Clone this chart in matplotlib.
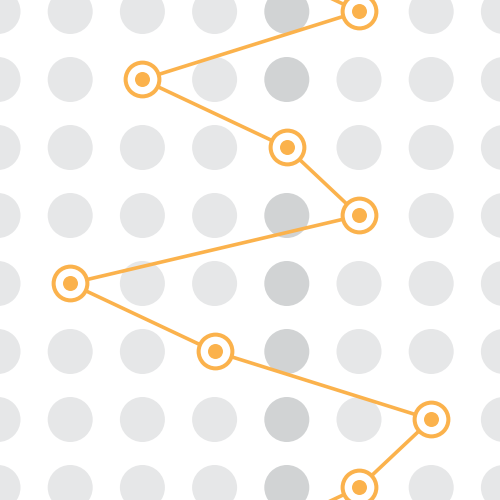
import numpy as np
import matplotlib
matplotlib.use('Agg')
import matplotlib.pyplot as plt

# background dot grid (column, row indices)
grid_cols = np.arange(0, 8)
grid_rows = np.arange(0, 8)
dark_col = 4

# zigzag path: column index for each row (rows -1 and 8 run off the edges)
path_rows = [-1, 0, 1, 2, 3, 4, 5, 6, 7, 8]
path_cols = [3, 5, 2, 4, 5, 1, 3, 6, 5, 3]

orange = '#fbb24c'
light_gray = '#e6e7e8'
dark_gray = '#d1d3d4'

fig = plt.figure(figsize=(5, 5), dpi=100)
ax = fig.add_axes([0, 0, 1, 1])

gx, gy = np.meshgrid(grid_cols, grid_rows)
gx = gx.ravel()
gy = gy.ravel()
colors = [dark_gray if c == dark_col else light_gray for c in gx]
ax.scatter(gx, gy, s=1050, c=colors, linewidths=0, zorder=1)

# white knock-out behind each marker
ax.scatter(path_cols, path_rows, s=1200, c='white', linewidths=0, zorder=2)

ax.plot(path_cols, path_rows, color=orange, lw=2.6, zorder=3)
ax.plot(path_cols, path_rows, linestyle='none', marker='o', ms=24.3,
        mfc='white', mec=orange, mew=2.9, zorder=4)
ax.plot(path_cols, path_rows, linestyle='none', marker='o', ms=10.8,
        mfc=orange, mec='none', zorder=5)

# pixel mapping: col c -> -2 + 72.2c, row r -> 11.5 + 68r
ax.set_xlim(2 / 72.2, 502 / 72.2)
ax.set_ylim((500 - 11.5) / 68, -11.5 / 68)
ax.axis('off')

fig.savefig('out.png', dpi=100, facecolor='white')
